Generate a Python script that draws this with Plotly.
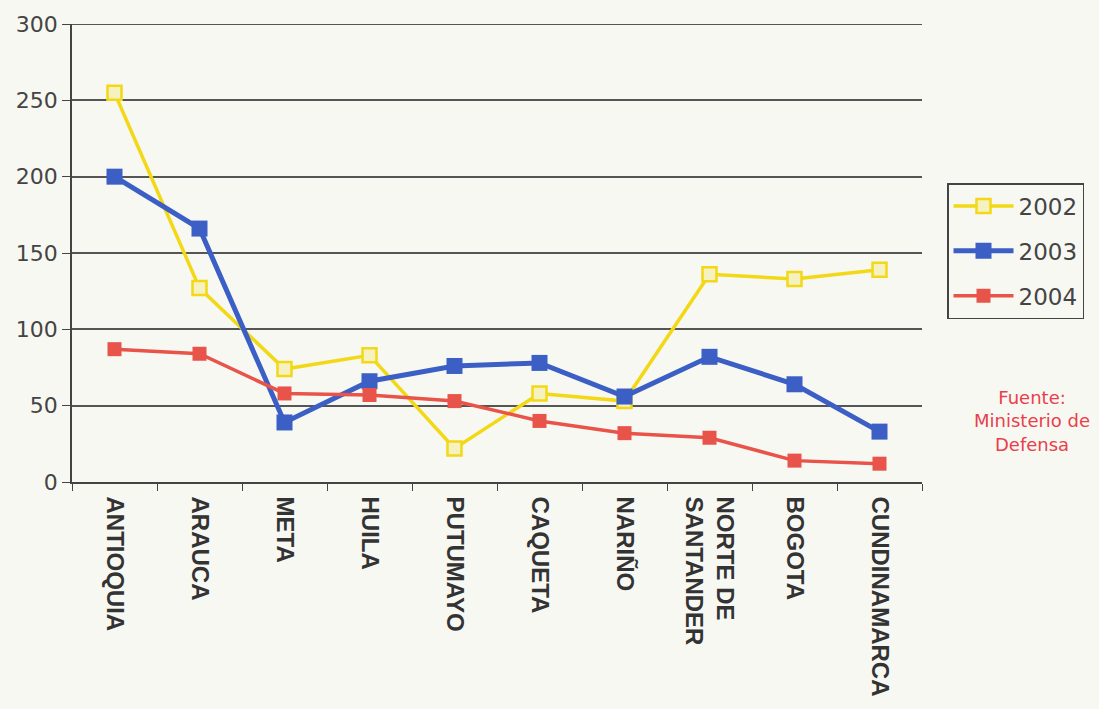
import plotly.graph_objects as go

categories = ["ANTIOQUIA", "ARAUCA", "META", "HUILA", "PUTUMAYO", "CAQUETA",
              "NARIÑO", "NORTE DE<br>SANTANDER", "BOGOTA", "CUNDINAMARCA"]
y2002 = [255, 127, 74, 83, 22, 58, 53, 136, 133, 139]
y2003 = [200, 166, 39, 66, 76, 78, 56, 82, 64, 33]
y2004 = [87, 84, 58, 57, 53, 40, 32, 29, 14, 12]
y_ticks = [0, 50, 100, 150, 200, 250, 300]

bg = "#f8f8f3"
W, H = 1099, 709
L, R, T, B = 72, 177, 20, 227
pw, ph = W - L - R, H - T - B

fig = go.Figure()
fig.add_trace(go.Scatter(x=categories, y=y2002, name="2002", legendgroup="a",
                         mode="lines+markers",
                         line=dict(color="#f2d816", width=3.5),
                         marker=dict(symbol="square", size=14, color="#f6f2c0",
                                     line=dict(color="#f2d816", width=2.5))))
fig.add_trace(go.Scatter(x=categories, y=y2003, name="2003", legendgroup="b",
                         mode="lines+markers",
                         line=dict(color="#3b5fc4", width=5),
                         marker=dict(symbol="square", size=16, color="#3b5fc4")))
fig.add_trace(go.Scatter(x=categories, y=y2004, name="2004", legendgroup="c",
                         mode="lines+markers",
                         line=dict(color="#e8534a", width=3.5),
                         marker=dict(symbol="square", size=14, color="#e8534a")))

fig.update_layout(
    width=W, height=H,
    margin=dict(l=L, r=R, t=T, b=B),
    paper_bgcolor=bg, plot_bgcolor=bg,
    showlegend=True,
    legend=dict(xref="container", yref="container", x=947/W, y=1-183/H,
                xanchor="left", yanchor="top",
                font=dict(family="DejaVu Sans", size=23, color="#444"),
                bordercolor="#444", borderwidth=1.5, bgcolor=bg,
                itemwidth=60, tracegroupgap=12),
    xaxis=dict(type="category", range=[-0.5, len(categories) - 0.5],
               tickangle=90, tickson="boundaries",
               ticks="outside", ticklen=7, tickcolor="#444", ticklabelstandoff=8,
               showline=True, linecolor="#444", linewidth=1.5,
               showgrid=False,
               tickfont=dict(family="Liberation Sans", size=24, color="#333", weight="bold")),
    yaxis=dict(range=[0, 300], tickvals=y_ticks, ticks="outside", ticklen=8,
               tickcolor="#444", showline=True, linecolor="#444", linewidth=1.5,
               showgrid=True, gridcolor="#555", gridwidth=1.5, zeroline=False,
               tickfont=dict(family="DejaVu Sans", size=22, color="#444")),
    shapes=[dict(type="line", xref="paper", yref="y", x0=0, x1=1, y0=y_ticks[-1], y1=y_ticks[-1],
                 line=dict(color="#555", width=2))],
    annotations=[dict(xref="paper", yref="paper", x=(1032-L)/pw, y=(H-B-420)/ph,
                      text="Fuente:<br>Ministerio de<br>Defensa", showarrow=False,
                      font=dict(family="DejaVu Sans", size=18, color="#e8404a"),
                      align="center", xanchor="center", yanchor="middle")],
)
fig.write_html("out.html", config={"displayModeBar": False},
               post_script="document.body.style.margin='0';document.body.style.background='%s';" % bg)
